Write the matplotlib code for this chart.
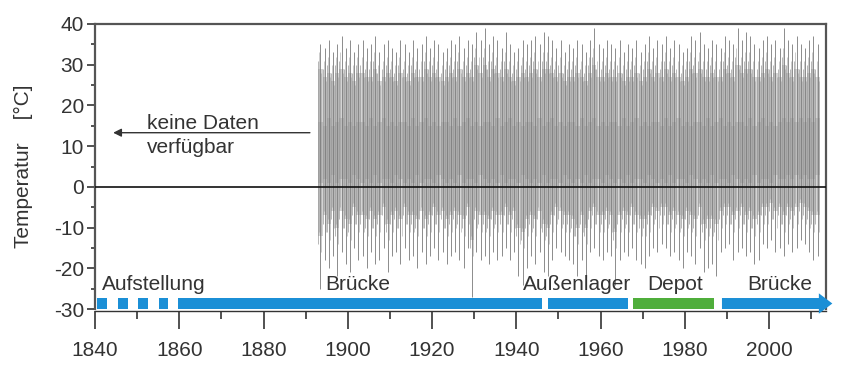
import numpy as np
import matplotlib
matplotlib.use("Agg")
import matplotlib.pyplot as plt
from matplotlib.patches import FancyArrow

plt.rcParams['font.family'] = ['Liberation Sans', 'DejaVu Sans']
plt.rcParams['axes.unicode_minus'] = False

# ---- data ----
first_year = 1893
ann_max = [35, 34, 36, 33, 35, 37, 34, 36, 33, 35,
           36, 34, 35, 37, 33, 35, 36, 34, 33, 36,
           35, 33, 36, 34, 35, 37, 34, 36, 35, 33,
           34, 36, 35, 37, 34, 36, 35, 38, 36, 39,
           35, 37, 36, 34, 38, 35, 33, 34, 36, 35,
           36, 37, 35, 38, 37, 36, 34, 36, 33, 35,
           34, 36, 35, 33, 36, 39, 35, 34, 36, 35,
           34, 36, 33, 35, 34, 36, 33, 35, 37, 34,
           36, 35, 37, 34, 36, 35, 33, 34, 37, 36,
           38, 35, 34, 36, 35, 34, 37, 36, 35, 39,
           36, 38, 37, 35, 34, 36, 37, 35, 36, 34,
           39, 36, 35, 37, 35, 34, 36, 37, 35]
ann_min = [-25, -18, -20, -17, -22, -16, -19, -21, -15, -18,
           -17, -20, -16, -19, -18, -15, -21, -17, -16, -19,
           -15, -18, -17, -20, -16, -19, -17, -15, -18, -16,
           -19, -17, -16, -18, -20, -15, -27, -16, -18, -17,
           -19, -16, -18, -17, -15, -18, -16, -22, -24, -20,
           -17, -19, -16, -21, -22, -18, -15, -16, -17, -18,
           -19, -22, -18, -23, -16, -15, -17, -18, -16, -17,
           -24, -18, -16, -17, -15, -18, -19, -20, -17, -15,
           -16, -14, -15, -17, -16, -18, -20, -16, -17, -19,
           -15, -21, -20, -19, -22, -16, -15, -14, -18, -16,
           -15, -17, -16, -19, -18, -14, -15, -13, -16, -15,
           -17, -14, -16, -15, -13, -14, -16, -18, -17]
# typical summer highs / winter lows per year (dense part of the record)
summer_high = [31, 29, 30, 28, 30, 31, 29, 30, 28, 30,
               30, 29, 29, 31, 28, 29, 30, 29, 28, 30,
               29, 28, 30, 29, 29, 31, 29, 30, 29, 28,
               29, 30, 29, 31, 29, 30, 29, 32, 30, 32,
               29, 31, 30, 29, 31, 29, 28, 29, 30, 29,
               30, 31, 29, 31, 31, 30, 29, 30, 28, 29,
               29, 30, 29, 28, 30, 32, 29, 29, 30, 29,
               29, 30, 28, 29, 29, 30, 28, 29, 31, 29,
               30, 29, 31, 29, 30, 29, 28, 29, 31, 30,
               31, 29, 29, 30, 29, 29, 31, 30, 29, 32,
               30, 31, 31, 29, 29, 30, 31, 29, 30, 29,
               32, 30, 29, 31, 29, 29, 30, 31, 29]
winter_low = [-14, -9, -11, -8, -12, -8, -10, -11, -7, -9,
              -9, -10, -8, -10, -9, -7, -11, -9, -8, -10,
              -7, -9, -9, -10, -8, -10, -9, -7, -9, -8,
              -10, -9, -8, -9, -10, -7, -15, -8, -9, -9,
              -10, -8, -9, -9, -7, -9, -8, -12, -13, -10,
              -9, -10, -8, -11, -12, -9, -7, -8, -9, -9,
              -10, -12, -9, -12, -8, -7, -9, -9, -8, -9,
              -13, -9, -8, -9, -7, -9, -10, -10, -9, -7,
              -8, -7, -7, -9, -8, -9, -10, -8, -9, -10,
              -7, -11, -10, -10, -11, -8, -7, -7, -9, -8,
              -7, -9, -8, -10, -9, -7, -7, -6, -8, -7,
              -9, -7, -8, -7, -6, -7, -8, -9, -9]
core_high = [16, 15, 17, 15, 16, 17, 15, 16, 15, 16] * 11 + [17, 16, 17, 16, 17, 16, 17, 16, 17]
core_low = [1, 2, 1, 3, 1, 2, 2, 1, 3, 2] * 11 + [2, 3, 2, 3, 2, 3, 2, 2, 3]

# campaign periods
dash_starts = [1840.5, 1845.5, 1850.2, 1855.2]
dash_ends = [1842.8, 1847.8, 1852.6, 1857.3]
period_starts = [1859.7, 1947.6, 1967.6, 1988.8]
period_ends = [1946.0, 1966.6, 1986.8, 2015.0]
period_kind = ['blue', 'blue', 'green', 'arrow']
period_labels = ['Aufstellung', 'Brücke', 'Außenlager', 'Depot', 'Brücke']
label_x = [1841.7, 1894.6, 1941.6, 1971.0, 1994.8]

BLUE = '#1b8fd6'
GREEN = '#4fae3b'
TXT = '#333333'

fig = plt.figure(figsize=(8.44, 3.68), dpi=100)
ax = fig.add_axes([0.1126, 0.1603, 0.8661, 0.7745])
ax.set_xlim(1840, 2013.5)
ax.set_ylim(-30, 40)

years = first_year + np.arange(len(ann_max))
sh = np.array(summer_high)
wl = np.array(winter_low)
edges = np.append(years, years[-1] + 1)

# dense record rendering
ax.fill_between(edges, np.append(wl, wl[-1]) + 2, np.append(sh, sh[-1]) - 2, step='post',
                color='#d4d4d4', lw=0, zorder=1)
ax.fill_between(edges, np.append(core_low, core_low[-1]),
                np.append(core_high, core_high[-1]), step='post',
                color='#a8a8a8', lw=0, alpha=0.55, zorder=1)
ax.vlines(years + 0.5, ann_min, ann_max, color='#7a7a7a', lw=0.6, zorder=2)
ax.vlines(years + 0.0, wl, sh, color='#8c8c8c', lw=0.55, alpha=0.8, zorder=2)
ax.vlines(years + 0.25, wl + 3, sh + 2, color='#9a9a9a', lw=0.5, alpha=0.7, zorder=2)
ax.vlines(years + 0.75, wl - 2, sh - 3, color='#9a9a9a', lw=0.5, alpha=0.7, zorder=2)

ax.axhline(0, color='#111111', lw=1.2, zorder=3)

# campaign bars
bar_lo, bar_h = -30.0, 2.7
for s, e in zip(dash_starts, dash_ends):
    ax.add_patch(plt.Rectangle((s, bar_lo), e - s, bar_h, color=BLUE, lw=0, zorder=4, clip_on=False))
for s, e, k in zip(period_starts, period_ends, period_kind):
    if k == 'arrow':
        ax.add_patch(FancyArrow(s, bar_lo + bar_h / 2, e - s, 0, width=bar_h,
                                head_width=5.0, head_length=3.2,
                                length_includes_head=True, color=BLUE, lw=0,
                                zorder=4, clip_on=False))
    else:
        ax.add_patch(plt.Rectangle((s, bar_lo), e - s, bar_h,
                                   color=(GREEN if k == 'green' else BLUE),
                                   lw=0, zorder=4, clip_on=False))
for lab, lx in zip(period_labels, label_x):
    ax.text(lx, -25.3, lab, fontsize=15, color=TXT, ha='left', va='baseline', zorder=5)

# annotation
ax.annotate('', xy=(1844.3, 13.3), xytext=(1891, 13.3),
            arrowprops=dict(arrowstyle='-|>', color=TXT, lw=1.0,
                            mutation_scale=12, shrinkA=0, shrinkB=0))
ax.text(1852.3, 14.2, 'keine Daten', fontsize=15, color=TXT, va='baseline')
ax.text(1852.3, 8.2, 'verfügbar', fontsize=15, color=TXT, va='baseline')

# axes styling
for sp in ['top', 'right', 'left']:
    ax.spines[sp].set_color('#555555')
    ax.spines[sp].set_linewidth(1.6)
ax.spines['bottom'].set_color(TXT)
ax.spines['bottom'].set_linewidth(1.0)
ax.spines['bottom'].set_position(('data', -30.6))
ax.spines['bottom'].set_zorder(3)

ax.set_xticks(np.arange(1840, 2001, 20))
ax.set_xticks(np.arange(1850, 2011, 20), minor=True)
ax.set_yticks(np.arange(-30, 41, 10))
ax.set_yticks(np.arange(-25, 40, 10), minor=True)
ax.tick_params(axis='x', which='major', length=13, width=1.2, color=TXT,
               labelsize=15, pad=8, labelcolor=TXT)
ax.tick_params(axis='x', which='minor', length=6, width=1.2, color=TXT)
ax.tick_params(axis='y', which='major', length=6, width=1.2, color=TXT,
               labelsize=15, pad=2, labelcolor=TXT)
ax.tick_params(axis='y', which='minor', length=3, width=1.2, color=TXT)
ax.set_ylabel('Temperatur    [°C]', fontsize=15, color=TXT, labelpad=15)

fig.savefig('out.png', dpi=100)
